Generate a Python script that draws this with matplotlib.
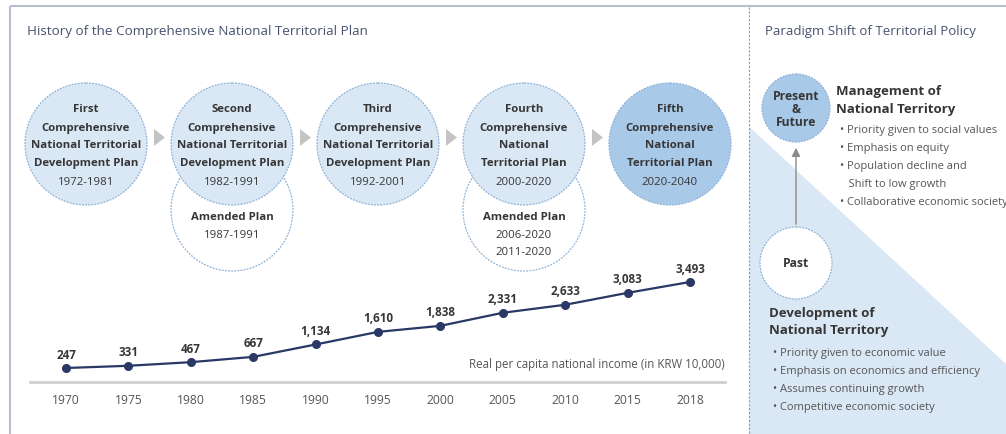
import matplotlib
matplotlib.use("Agg")
import matplotlib.pyplot as plt
from matplotlib.patches import Circle, Polygon, FancyArrowPatch

plt.rcParams['font.family'] = ['Open Sans', 'DejaVu Sans']

# ---------------- data ----------------
years = ["1970", "1975", "1980", "1985", "1990", "1995", "2000", "2005", "2010", "2015", "2018"]
income = [247, 331, 467, 667, 1134, 1610, 1838, 2331, 2633, 3083, 3493]
income_labels = ["247", "331", "467", "667", "1,134", "1,610", "1,838", "2,331", "2,633", "3,083", "3,493"]

plan_titles = [
    ["First", "Comprehensive", "National Territorial", "Development Plan"],
    ["Second", "Comprehensive", "National Territorial", "Development Plan"],
    ["Third", "Comprehensive", "National Territorial", "Development Plan"],
    ["Fourth", "Comprehensive", "National", "Territorial Plan"],
    ["Fifth", "Comprehensive", "National", "Territorial Plan"],
]
plan_periods = ["1972-1981", "1982-1991", "1992-2001", "2000-2020", "2020-2040"]
amended = {1: ["1987-1991"], 3: ["2006-2020", "2011-2020"]}

title_left = "History of the Comprehensive National Territorial Plan"
title_right = "Paradigm Shift of Territorial Policy"
income_caption = "Real per capita national income (in KRW 10,000)"

future_head = ["Management of", "National Territory"]
future_items = ["• Priority given to social values", "• Emphasis on equity",
                "• Population decline and", "   Shift to low growth",
                "• Collaborative economic society"]
past_head = ["Development of", "National Territory"]
past_items = ["• Priority given to economic value", "• Emphasis on economics and efficiency",
              "• Assumes continuing growth", "• Competitive economic society"]

# ---------------- style ----------------
W, H = 1006, 435
C_FRAME = "#b9bdcf"
C_TITLE = "#4a5270"
C_TEXT = "#363636"
C_GRAY = "#555555"
C_LIGHT = "#dae7f4"
C_DARK = "#a9c9e9"
C_EDGE = "#8fb2d8"
C_NAVY = "#2a3866"

fig = plt.figure(figsize=(W / 100, H / 100), dpi=100)
ax = fig.add_axes([0, 0, 1, 1])
ax.set_xlim(0, W)
ax.set_ylim(H, 0)
ax.axis("off")

# frame
ax.plot([10, W], [7, 7], color=C_FRAME, lw=1.5, solid_capstyle="butt")
ax.plot([10, 10], [7, H], color=C_FRAME, lw=1.5, solid_capstyle="butt")
ax.plot([749, 749], [8, H], color="#8f95aa", lw=0.8, ls=(0, (2, 1.5)))

# titles
ax.text(27, 31, title_left, fontsize=9.7, color=C_TITLE, va="center", ha="left")
ax.text(765, 31, title_right, fontsize=9.5, color=C_TITLE, va="center", ha="left")

# plan circles
cx = [86, 232, 378, 524, 670]
cy = 145
r = 61
dash = (0, (1.5, 1.0))
for i in range(5):
    if i in amended:
        ax.add_patch(Circle((cx[i], 211), r, facecolor="white", edgecolor=C_EDGE,
                            lw=0.9, ls=dash, zorder=1))
    ax.add_patch(Circle((cx[i], cy), r, facecolor=C_DARK if i == 4 else C_LIGHT,
                        edgecolor=C_EDGE, lw=0.9, ls=dash, zorder=2))
    for j, line in enumerate(plan_titles[i]):
        ax.text(cx[i], 110 + 18 * j, line, fontsize=8.2, fontweight="bold", color=C_TEXT,
                ha="center", va="center", zorder=3)
    ax.text(cx[i], 183, plan_periods[i], fontsize=8.2, color=C_TEXT, ha="center", va="center", zorder=3)
    if i in amended:
        ax.text(cx[i], 218, "Amended Plan", fontsize=8.2, fontweight="bold", color=C_TEXT,
                ha="center", va="center", zorder=3)
        for k, p in enumerate(amended[i]):
            ax.text(cx[i], 236 + 17 * k, p, fontsize=8.2, color=C_TEXT, ha="center", va="center", zorder=3)
    if i < 4:
        ax_ = (cx[i] + cx[i + 1]) / 2
        ax.add_patch(Polygon([[ax_ - 5, 130], [ax_ - 5, 147], [ax_ + 6, 138.5]],
                             closed=True, facecolor="#c4c4c4", edgecolor="none", zorder=3))

# income caption
ax.text(725, 365, income_caption, fontsize=8.3, color=C_GRAY, ha="right", va="center")

# ---------------- right panel ----------------
ax.add_patch(Polygon([[749.5, 128], [W, 365], [W, H], [749.5, H]], closed=True,
                     facecolor=C_LIGHT, edgecolor="none", zorder=0))
ax.add_patch(Circle((796, 109), 34, facecolor=C_DARK, edgecolor=C_EDGE, lw=0.9, ls=dash, zorder=2))
for j, t in enumerate(["Present", "&", "Future"]):
    ax.text(796, 97 + 12.5 * j, t, fontsize=8.7, fontweight="bold", color=C_TEXT,
            ha="center", va="center", zorder=3)
ax.add_patch(Circle((796, 264), 36, facecolor="white", edgecolor=C_EDGE, lw=0.9, ls=dash, zorder=2))
ax.text(796, 264, "Past", fontsize=8.7, fontweight="bold", color=C_TEXT, ha="center", va="center", zorder=3)
ax.add_patch(FancyArrowPatch((796, 228), (796, 146), arrowstyle="-|>,head_length=5,head_width=2.5",
                             color="#8c8c8c", lw=1.0, mutation_scale=1, zorder=2))

for j, t in enumerate(future_head):
    ax.text(836, 92 + 17 * j, t, fontsize=9.5, fontweight="bold", color=C_TEXT, ha="left", va="center")
for j, t in enumerate(future_items):
    ax.text(840, 131 + 18 * j, t, fontsize=8, color=C_GRAY, ha="left", va="center", clip_on=True)
for j, t in enumerate(past_head):
    ax.text(769, 314 + 17 * j, t, fontsize=9.5, fontweight="bold", color=C_TEXT, ha="left", va="center")
for j, t in enumerate(past_items):
    ax.text(773, 354 + 18 * j, t, fontsize=8, color=C_GRAY, ha="left", va="center")

# ---------------- line chart ----------------
x0, x1 = 30, 725
ybot, ytop = 383, 270
px_per_idx = 62.4
px_per_val = 0.0265
xl = (-(66 - x0) / px_per_idx, len(years) - 1 + (x1 - 690) / px_per_idx)
yl = (247 - (ybot - 369) / px_per_val, 247 + (369 - ytop) / px_per_val)
lax = fig.add_axes([x0 / W, 1 - ybot / H, (x1 - x0) / W, (ybot - ytop) / H])
lax.patch.set_alpha(0)
lax.set_xlim(*xl)
lax.set_ylim(*yl)
xs = list(range(len(years)))
lax.plot(xs, income, color=C_NAVY, lw=1.6, marker="o", markersize=5.5, zorder=3)
for x, v, lab in zip(xs, income, income_labels):
    lax.annotate(lab, (x, v), xytext=(0, 10), textcoords="offset points", ha="center", va="center",
                 fontsize=8.4, fontweight="bold", color=C_TEXT)
for s in ["top", "left", "right"]:
    lax.spines[s].set_visible(False)
lax.spines["bottom"].set_color("#cfcfcf")
lax.spines["bottom"].set_linewidth(2)
lax.set_yticks([])
lax.set_xticks(xs)
lax.set_xticklabels(years, fontsize=8.7, color=C_GRAY)
lax.tick_params(axis="x", length=0, pad=8)

fig.savefig("out.png", dpi=100)
